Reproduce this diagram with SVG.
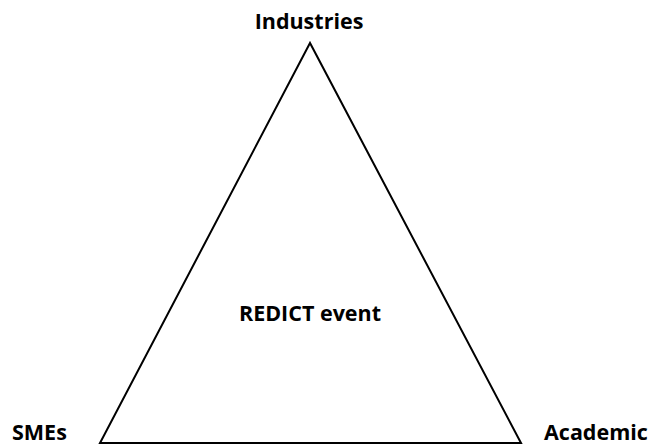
<svg xmlns="http://www.w3.org/2000/svg" width="649" height="445" viewBox="0 0 649 445">
  <style>
    .lbl { font-family: "Open Sans", "Liberation Sans", sans-serif; font-weight: bold; font-size: 21.5px; fill: #000; }
    .edge { fill: none; stroke: #000; stroke-width: 2; stroke-linejoin: miter; }
  </style>
  <rect width="649" height="445" fill="#fff"/>
  <g id="connectors">
    <polygon class="edge" points="310,43 100,443 521,443"/>
  </g>
  <g id="industries">
    <text class="lbl" x="309" y="29" text-anchor="middle">Industries</text>
  </g>
  <g id="smes">
    <text class="lbl" x="12" y="440">SMEs</text>
  </g>
  <g id="academic">
    <text class="lbl" x="544" y="440">Academic</text>
  </g>
  <g id="redict">
    <text class="lbl" x="310" y="321" text-anchor="middle">REDICT event</text>
  </g>
</svg>
